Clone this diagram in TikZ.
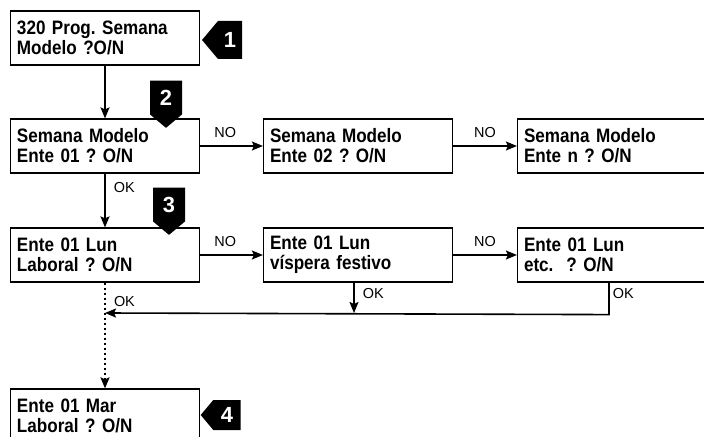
\documentclass[tikz,border=0pt]{standalone}
\usepackage{fontspec}
\setmainfont{Liberation Sans}
\newfontfamily\narrowfont{Liberation Sans}[FakeStretch=0.88]
\newcommand\boxface{\narrowfont\bfseries\fontsize{19.5}{20}\selectfont\frenchspacing\spaceskip=3bp\relax}
\usetikzlibrary{arrows.meta,shapes.symbols}
\begin{document}
\begin{tikzpicture}[x=1bp,y=-1bp,line width=1.2bp,
  box/.style={draw,minimum width=189bp,minimum height=54bp,text width=176bp,align=left,inner sep=0pt,font=\boxface},
  lbl/.style={font=\fontsize{14.5}{15}\selectfont,inner sep=0pt},
  tag/.style={signal,fill=black,text=white,inner sep=0pt,signal pointer angle=100,font=\bfseries\fontsize{22}{22}\selectfont},
  go/.style={line width=1.6bp,-{Stealth[length=11bp,width=9bp,inset=2bp]}},
  dots/.style={go,dash pattern=on 2.5bp off 2.5bp,line width=2bp}]
\useasboundingbox (0,0) rectangle (704,437);
\clip (0,0) rectangle (704,437);
\node[box] (sel) at (105,38) {320 Prog. Semana\\Modelo ?O/N};
\node[box] (e1) at (105,146) {Semana Modelo\\Ente 01 ? O/N};
\node[box] (e2) at (358,146) {Semana Modelo\\Ente 02 ? O/N};
\node[box] (en) at (612,146) {Semana Modelo\\Ente n ? O/N};
\node[box] (lab) at (105,255) {Ente 01 Lun\\Laboral ? O/N};
\node[box] (vis) at (358,255) {Ente 01 Lun\\víspera festivo};
\node[box] (etc) at (612,255) {Ente 01 Lun\\etc.\ \ ? O/N};
\node[box] (mar) at (105,416) {Ente 01 Mar\\Laboral ? O/N};
\node[tag,signal to=west,minimum width=40bp,minimum height=38bp] (m1) at (230,40) {1};
\node[tag,signal to=south,minimum width=32bp,minimum height=39bp] (m2) at (166,97.5) {2};
\node[tag,signal to=south,minimum width=32bp,minimum height=39bp] (m3) at (169,204.5) {3};
\node[tag,signal to=west,minimum width=40bp,minimum height=30bp] (m4) at (227,415) {4};
\coordinate (j) at (105,313);
\draw[go] (sel) -- (e1);
\draw[go] (e1) -- node[lbl,pos=.4,above=8bp] {NO} (e2);
\draw[go] (e2) -- node[lbl,above=8bp] {NO} (en);
\draw[go] (e1) -- node[lbl,pos=.25,right=8bp] {OK} (lab);
\draw[go] (lab) -- node[lbl,pos=.4,above=8bp] {NO} (vis);
\draw[go] (vis) -- node[lbl,above=8bp] {NO} (etc);
\draw[go] ([xshift=-4bp]vis.south) -- node[lbl,pos=.35,right=8bp] {OK} ([xshift=-4bp]vis.south |- j);
\draw[go] ([xshift=-3bp]etc.south) -- node[lbl,pos=.35,right=3bp] {OK} ++(0,32) -- (j);
\draw[dots] (lab) -- node[lbl,pos=.18,right=8bp] {OK} (mar);
\end{tikzpicture}
\end{document}
